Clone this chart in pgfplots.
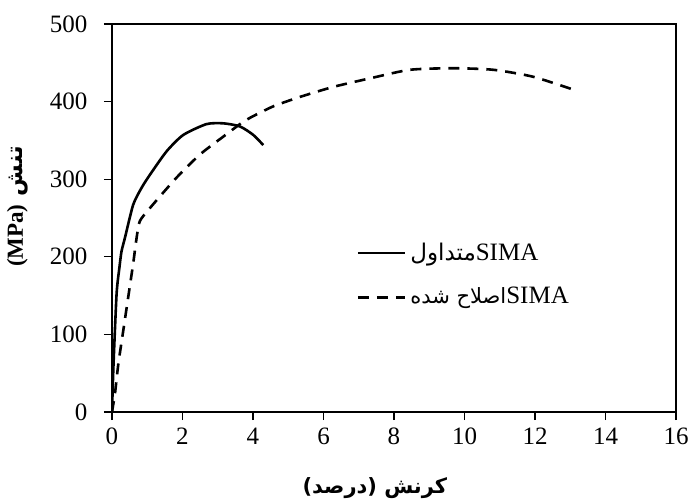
\documentclass[11pt,border=0pt]{standalone}
\usepackage{fontspec}
\setmainfont{Liberation Serif}
\newfontfamily\arabicfont[Script=Arabic]{DejaVu Sans}
\TeXXeTstate=1
\usepackage{pgfplots}
\pgfplotsset{compat=1.18}
\begin{document}
\begin{tikzpicture}
\useasboundingbox (-56pt,-43.5pt) rectangle (289.5pt,206pt);
\begin{axis}[
  at={(0,0)}, anchor=south west,
  scale only axis, width=282pt, height=194pt,
  xmin=0, xmax=16, ymin=0, ymax=500,
  xtick={0,2,...,16}, ytick={0,100,...,500},
  tick align=outside, tick pos=left,
  major tick length=4pt,
  axis line style={line width=0.6pt},
  every tick/.style={black, line width=0.6pt},
  /pgf/number format/assume math mode=true,
  ticklabel style={font=\fontsize{12.5}{14}\selectfont},
  yticklabel style={xshift=-4.5pt},
  xlabel={\arabicfont\bfseries\beginR کرنش (درصد)\endR},
  xlabel style={at={(axis description cs:0.466,-0.195)}, anchor=center, font=\fontsize{10.5}{12}\selectfont},
  ylabel={\arabicfont\bfseries\beginR تنش \beginL\rmfamily\bfseries (MPa)\endL\endR},
  ylabel style={at={(axis description cs:-0.167,0.53)}, anchor=center, rotate=0, font=\fontsize{11.5}{13}\selectfont},
  legend style={draw=none, fill=none, at={(axis cs:6.93,224)}, anchor=north west, row sep=8pt, inner sep=0pt, font=\fontsize{12.5}{14}\selectfont},
  legend cell align=left,
  legend image code/.code={\draw[#1] (0pt,0pt) -- (23.5pt,0pt);},
]
\addplot[black, line width=1.3pt, smooth, tension=0.4] coordinates {
(0,0) (0.04,58) (0.13,152) (0.21,186) (0.27,207) (0.37,225) (0.60,267) (0.84,289) (1.08,306) (1.55,336) (2.02,357) (2.68,371) (3.16,372) (3.63,368) (4.01,357) (4.29,344)
};
\addlegendentry{{\arabicfont\fontsize{11.5}{13}\selectfont متداول}SIMA}
\addplot[black, line width=1.3pt, smooth, tension=0.4, dash pattern=on 5.5pt off 4pt] coordinates {
(0,0) (0.085,24) (0.18,62) (0.32,105) (0.46,148) (0.60,191) (0.70,225) (0.79,246) (1.08,263) (1.83,302) (2.50,332) (3.16,355) (3.72,374) (3.95,380) (4.58,394) (5.33,406) (6.28,419) (7.32,430) (8.45,441) (9.68,443) (10.82,441) (11.95,432) (13.18,414)
};
\addlegendentry{{\arabicfont\fontsize{10.5}{13}\selectfont\beginR اصلاح شده\endR}SIMA}
\end{axis}
\end{tikzpicture}
\end{document}
